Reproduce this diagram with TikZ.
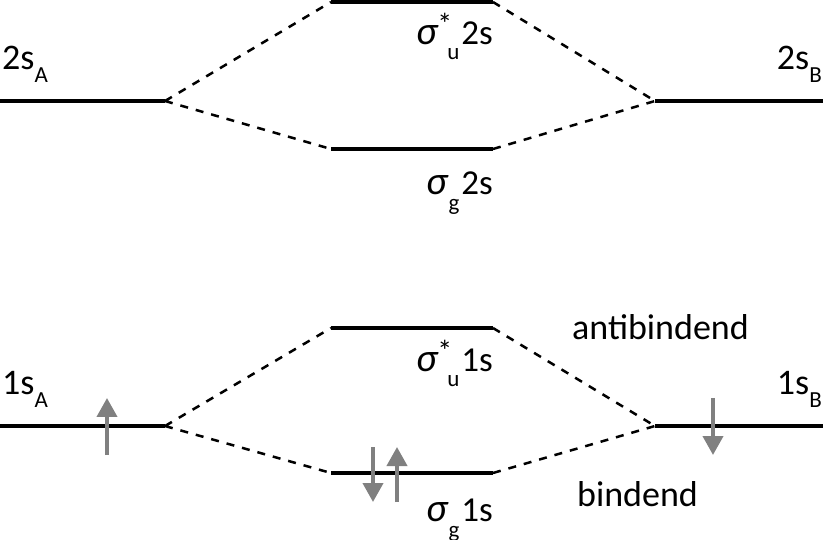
\documentclass[tikz,border=0pt]{standalone}
\usepackage{fontspec}
\setmainfont{Carlito}
\usetikzlibrary{arrows.meta}
\definecolor{spingray}{RGB}{128,128,128}
\newcommand{\sgm}{{\fontsize{40}{40}\selectfont\itshape σ}}
\newcommand{\subA}[1]{\raisebox{-13pt}{\fontsize{23}{23}\selectfont #1}}
\newcommand{\supsub}[2]{\rlap{\raisebox{10pt}{\fontsize{30}{30}\selectfont #1}}\hspace*{10pt}\raisebox{-15pt}{\fontsize{23}{23}\selectfont #2}\hspace*{2pt}}
\newcommand{\subg}[1]{\hspace*{1pt}\raisebox{-16pt}{\fontsize{23}{23}\selectfont #1}\hspace*{2pt}}
\begin{document}
\begin{tikzpicture}[x=1pt,y=-1pt,
  level/.style={line width=4.5pt},
  corr/.style={line width=2.5pt,dash pattern=on 8pt off 8pt},
  spin/.style={line width=4pt,spingray,-{Triangle[width=20pt,length=19pt]}},
  lbl/.style={inner sep=0pt,font=\fontsize{36}{40}\selectfont},
  slbl/.style={inner sep=0pt,font=\fontsize{35}{40}\selectfont}]
\useasboundingbox (0,0) rectangle (823,540);
% 2s levels
\coordinate (a2l) at (0,101);   \coordinate (a2r) at (165,101);
\coordinate (b2l) at (655,101); \coordinate (b2r) at (823,101);
\coordinate (u2l) at (331,2);   \coordinate (u2r) at (493,2);
\coordinate (g2l) at (331,149); \coordinate (g2r) at (493,149);
% 1s levels
\coordinate (a1l) at (0,426);   \coordinate (a1r) at (165,426);
\coordinate (b1l) at (655,426); \coordinate (b1r) at (823,426);
\coordinate (u1l) at (331,328); \coordinate (u1r) at (493,328);
\coordinate (g1l) at (331,473); \coordinate (g1r) at (493,473);
\foreach \p in {a2,b2,u2,g2,a1,b1,u1,g1} \draw[level] (\p l) -- (\p r);
\draw[corr] (a2r) -- (u2l) (a2r) -- (g2l) (u2r) -- (b2l) (g2r) -- (b2l);
\draw[corr] (a1r) -- (u1l) (a1r) -- (g1l) (u1r) -- (b1l) (g1r) -- (b1l);
% labels
\node[lbl,anchor=base west] (l2a) at (2,70) {2s\subA{A}};
\node[lbl,anchor=base east] (l2b) at (822,70) {2s\subA{B}};
\node[lbl,anchor=base west] (l1a) at (2,395) {1s\subA{A}};
\node[lbl,anchor=base east] (l1b) at (822,395) {1s\subA{B}};
\node[slbl,anchor=base east] (lu2) at (493,45) {\sgm\supsub{*}{u}2s};
\node[slbl,anchor=base east] (lg2) at (493,195) {\sgm\subg{g}2s};
\node[slbl,anchor=base east] (lu1) at (493,372) {\sgm\supsub{*}{u}1s};
\node[slbl,anchor=base east] (lg1) at (493,521) {\sgm\subg{g}1s};
\node[lbl,anchor=base west] (anti) at (572,340) {antibindend};
\node[lbl,anchor=base west] (bind) at (577,506) {bindend};
% spins
\coordinate (s1a) at (107,455); \coordinate (s1b) at (107,398);
\coordinate (s2a) at (713,398); \coordinate (s2b) at (713,455);
\coordinate (s3a) at (373,447); \coordinate (s3b) at (373,502);
\coordinate (s4a) at (397,502); \coordinate (s4b) at (397,447);
\draw[spin] (s1a) -- (s1b);
\draw[spin] (s2a) -- (s2b);
\draw[spin] (s3a) -- (s3b);
\draw[spin] (s4a) -- (s4b);
\end{tikzpicture}
\end{document}
